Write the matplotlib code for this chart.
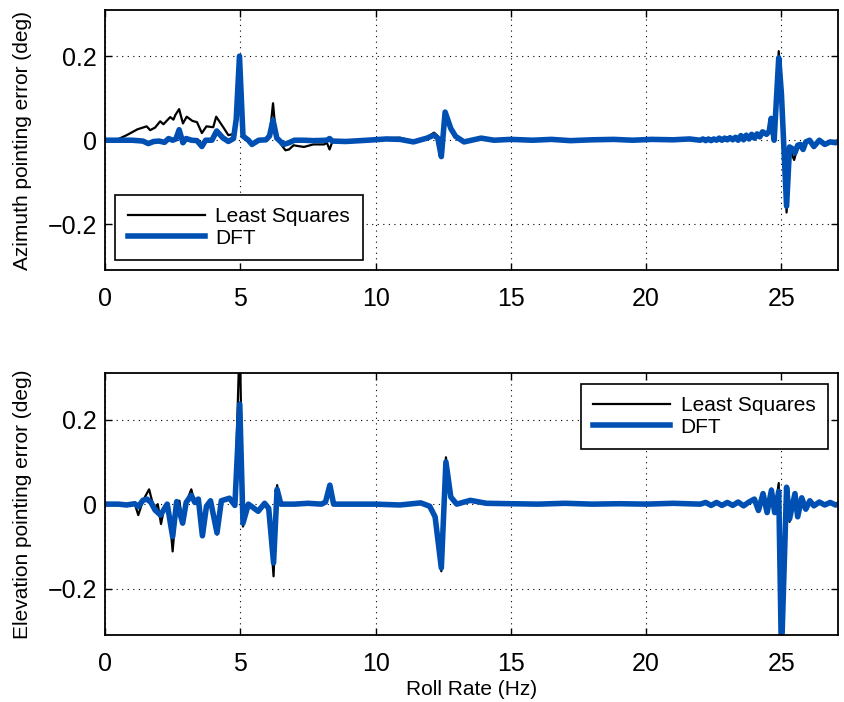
import numpy as np
import matplotlib
matplotlib.use("Agg")
import matplotlib.pyplot as plt

plt.rcParams['font.family'] = ['Liberation Sans', 'DejaVu Sans']

# azimuth error, least squares estimate (Hz, deg)
az_ls_f = [0, 0.4, 0.8, 1.2, 1.54, 1.67, 1.85, 2.04, 2.16, 2.41, 2.53, 2.6, 2.74, 2.88,
           3.02, 3.23, 3.4, 3.58, 3.75, 4.0, 4.11, 4.37, 4.56, 4.75, 4.87, 4.97, 5.08,
           5.2, 5.3, 5.45, 5.7, 5.95, 6.1, 6.21, 6.32, 6.45, 6.67, 6.8, 6.97, 7.15, 7.35,
           7.7, 8.1, 8.2, 8.3, 8.4, 8.95, 9.7, 10.4, 10.9, 11.4, 11.9, 12.16, 12.3, 12.43,
           12.57, 12.78, 12.96, 13.27, 13.9, 14.38, 15.0, 15.8, 16.5, 17.2, 18.0, 18.8,
           19.5, 20.2, 21.0, 21.6, 22.0, 22.1, 22.2, 22.3, 22.4, 22.5, 22.6, 22.7, 22.8,
           22.9, 23.0, 23.1, 23.2, 23.3, 23.4, 23.5, 23.6, 23.7, 23.8, 23.9, 24.0, 24.1,
           24.2, 24.3, 24.45, 24.55, 24.62, 24.73, 24.9, 25.0, 25.19, 25.3, 25.47, 25.6,
           25.7, 25.8, 25.9, 26.04, 26.2, 26.4, 26.6, 26.8, 27.0, 27.1]
az_ls = [0, 0.0, 0.012, 0.026, 0.033, 0.024, 0.03, 0.045, 0.038, 0.055, 0.049, 0.06, 0.074,
         0.04, 0.056, 0.046, 0.043, 0.017, 0.033, 0.031, 0.056, 0.031, 0.012, 0.015, 0.06,
         0.2, 0.01, 0.005, -0.002, -0.01, -0.002, 0.0, 0.02, 0.088, 0.01, -0.005, -0.024,
         -0.022, -0.012, -0.014, -0.016, -0.01, -0.01, -0.006, -0.022, -0.004, -0.005,
         0.002, 0.005, 0.006, -0.003, 0.007, 0.018, 0.01, -0.038, 0.067, 0.028, 0.009,
         -0.004, 0.005, 0.001, 0.003, 0.001, 0.003, 0.0, 0.002, 0.003, 0.001, 0.003, 0.002,
         0.004, 0.001, 0.003, -0.001, 0.003, -0.001, 0.003, 0.0, 0.005, 0.0, 0.005, 0.001,
         0.006, 0.001, 0.007, 0.0, 0.011, 0.001, 0.012, 0.003, 0.014, 0.005, 0.015, 0.008,
         0.02, 0.014, 0.022, 0.052, 0.0, 0.212, 0.11, -0.172, -0.02, -0.047, -0.014, -0.012,
         -0.024, -0.004, -0.002, -0.016, 0.0, -0.01, -0.004, -0.006, -0.003]

# azimuth error, DFT estimate
az_dft_f = [0, 1.0, 1.4, 1.6, 1.8, 2.0, 2.2, 2.35, 2.5, 2.62, 2.74, 2.88, 3.0, 3.2, 3.4,
            3.58, 3.72, 3.95, 4.13, 4.35, 4.56, 4.75, 4.85, 4.97, 5.1, 5.3, 5.43, 5.68,
            5.95, 6.08, 6.21, 6.35, 6.6, 6.8, 7.0, 7.35, 7.7, 8.2, 8.3, 8.4, 8.9, 9.7, 10.4,
            10.9, 11.4, 11.9, 12.16, 12.3, 12.43, 12.57, 12.78, 12.96, 13.27, 13.9, 14.38,
            15.0, 15.8, 16.5, 17.2, 18.0, 18.8, 19.5, 20.2, 21.0, 21.6, 22.0, 22.1, 22.2,
            22.3, 22.4, 22.5, 22.6, 22.7, 22.8, 22.9, 23.0, 23.1, 23.2, 23.3, 23.4, 23.5,
            23.6, 23.7, 23.8, 23.9, 24.0, 24.1, 24.2, 24.3, 24.45, 24.55, 24.62, 24.73, 24.9,
            25.0, 25.19, 25.3, 25.4, 25.5, 25.6, 25.7, 25.8, 25.9, 26.04, 26.2, 26.4, 26.6,
            26.8, 27.0, 27.1]
az_dft = [0, 0.0, -0.002, -0.008, -0.003, -0.002, -0.005, 0.004, 0.0, 0.003, 0.025, -0.006,
          0.004, 0.0, -0.001, -0.015, 0.0, 0.0, 0.022, 0.006, -0.003, 0.004, 0.05, 0.2, 0.01,
          0.0, -0.01, 0.0, 0.001, 0.01, 0.048, 0.005, -0.01, -0.006, 0.0, 0.0, -0.001, 0.0,
          0.004, -0.002, -0.003, 0.0, 0.003, 0.002, -0.004, 0.005, 0.012, 0.005, -0.039,
          0.067, 0.028, 0.009, -0.004, 0.005, 0.0, 0.002, 0.0, 0.002, -0.001, 0.001, 0.002,
          0.0, 0.002, 0.001, 0.003, 0.0, 0.003, -0.001, 0.003, -0.001, 0.003, 0.0, 0.005,
          0.0, 0.005, 0.001, 0.006, 0.001, 0.007, 0.0, 0.011, 0.001, 0.012, 0.003, 0.014,
          0.005, 0.015, 0.008, 0.02, 0.014, 0.022, 0.052, 0.0, 0.196, 0.11, -0.157, -0.016,
          -0.02, -0.03, -0.012, -0.01, -0.022, -0.004, 0.0, -0.015, 0.0, -0.01, -0.004,
          -0.006, -0.003]

# elevation error, least squares estimate
el_ls_f = [0, 0.5, 0.8, 1.1, 1.23, 1.4, 1.63, 1.75, 1.85, 1.95, 2.07, 2.2, 2.35, 2.5, 2.65,
           2.75, 2.87, 3.0, 3.19, 3.3, 3.45, 3.6, 3.75, 3.9, 4.14, 4.3, 4.6, 4.8, 4.98, 5.1,
           5.3, 5.66, 5.9, 6.05, 6.23, 6.36, 6.5, 7.0, 7.5, 8.0, 8.15, 8.31, 8.45, 9.0, 10.0,
           10.9, 11.67, 12.0, 12.2, 12.43, 12.6, 12.78, 13.0, 13.5, 14.1, 15.0, 16.0, 17.0,
           18.0, 19.0, 20.0, 21.0, 22.0, 22.2, 22.4, 22.6, 22.8, 23.0, 23.2, 23.4, 23.6,
           23.8, 24.0, 24.15, 24.32, 24.47, 24.63, 24.75, 24.9, 25.0, 25.19, 25.3, 25.5,
           25.6, 25.75, 25.9, 26.05, 26.2, 26.4, 26.6, 26.8, 27.0, 27.1]
el_ls = [0, 0.0, -0.002, 0.001, -0.026, 0.008, 0.035, 0.005, -0.012, 0.0, -0.047, -0.005,
         0.0, -0.112, 0.006, 0.008, -0.047, 0.004, 0.035, 0.006, 0.014, -0.077, -0.005,
         0.008, -0.072, 0.008, 0.014, -0.003, 0.4, -0.053, 0.0, -0.017, 0.002, -0.01,
         -0.171, 0.045, 0.0, 0.0, 0.002, 0.0, 0.005, 0.045, 0.0, 0.0, 0.0, -0.002, 0.003,
         -0.005, -0.03, -0.159, 0.111, 0.017, 0.0, 0.009, 0.002, 0.001, 0.0, 0.002, 0.0,
         0.001, 0.0, 0.002, 0.0, 0.004, -0.003, 0.004, -0.003, 0.004, -0.003, 0.005,
         -0.004, 0.005, 0.012, -0.015, 0.027, -0.02, 0.037, -0.02, 0.05, -0.36, 0.04,
         -0.042, 0.025, -0.03, 0.015, -0.012, 0.008, -0.004, 0.005, -0.002, 0.004, -0.002,
         0.0]

# elevation error, DFT estimate
el_dft_f = [0, 0.5, 0.8, 1.1, 1.23, 1.4, 1.55, 1.7, 1.85, 2.05, 2.3, 2.5, 2.65, 2.87, 3.0,
            3.19, 3.32, 3.45, 3.6, 3.75, 3.9, 4.14, 4.3, 4.6, 4.8, 4.98, 5.1, 5.3, 5.66, 5.9,
            6.05, 6.23, 6.36, 6.5, 7.0, 7.5, 8.0, 8.15, 8.31, 8.45, 9.0, 10.0, 10.9, 11.67,
            12.0, 12.2, 12.43, 12.6, 12.78, 13.0, 13.5, 14.1, 15.0, 16.0, 17.0, 18.0, 19.0,
            20.0, 21.0, 22.0, 22.2, 22.4, 22.6, 22.8, 23.0, 23.2, 23.4, 23.6, 23.8, 24.0,
            24.15, 24.32, 24.47, 24.63, 24.75, 24.9, 25.0, 25.19, 25.3, 25.5, 25.6, 25.75,
            25.9, 26.05, 26.2, 26.4, 26.6, 26.8, 27.0, 27.1]
el_dft = [0, 0.0, -0.002, 0.001, -0.006, 0.009, 0.012, 0.004, -0.014, -0.026, 0.0, -0.077,
          0.006, -0.045, 0.004, 0.021, 0.004, 0.012, -0.075, -0.005, 0.008, -0.068, 0.008,
          0.014, -0.003, 0.237, -0.045, 0.0, -0.017, 0.002, -0.01, -0.139, 0.035, 0.0, 0.0,
          0.002, 0.0, 0.005, 0.045, 0.0, 0.0, 0.0, -0.002, 0.003, -0.005, -0.03, -0.151,
          0.1, 0.017, 0.0, 0.009, 0.002, 0.001, 0.0, 0.002, 0.0, 0.001, 0.0, 0.002, 0.0,
          0.004, -0.003, 0.004, -0.003, 0.004, -0.003, 0.005, -0.004, 0.005, 0.012, -0.015,
          0.025, -0.02, 0.033, -0.02, 0.03, -0.36, 0.04, -0.035, 0.025, -0.03, 0.015,
          -0.012, 0.008, -0.004, 0.005, -0.002, 0.004, -0.002, 0.0]

xticks = [0, 5, 10, 15, 20, 25]
yticks = [-0.2, 0, 0.2]
ytick_labels = ['\u22120.2', '0', '0.2']
blue = '#0050b4'

fig = plt.figure(figsize=(8.44, 7.02), dpi=100)
ax1 = fig.add_axes([0.1244, 0.6147, 0.8688, 0.3711])
ax2 = fig.add_axes([0.1244, 0.0954, 0.8688, 0.3729])

panels = [
    (ax1, az_ls_f, az_ls, az_dft_f, az_dft, 'Azimuth pointing error (deg)', 'lower left'),
    (ax2, el_ls_f, el_ls, el_dft_f, el_dft, 'Elevation pointing error (deg)', 'upper right'),
]
for ax, f1, y1, f2, y2, ylab, loc in panels:
    ax.plot(f1, y1, color='black', lw=1.6, label='Least Squares')
    ax.plot(f2, y2, color=blue, lw=4.0, label='DFT')
    ax.set_xlim(0, 27.1)
    ax.set_ylim(-0.31, 0.31)
    ax.set_xticks(xticks)
    ax.set_yticks(yticks)
    ax.set_yticklabels(ytick_labels)
    ax.grid(True, color='black', linestyle=(0, (1, 4)), lw=0.8)
    ax.tick_params(direction='in', top=True, right=True, labelsize=18, length=5, width=1)
    ax.tick_params(axis='x', pad=12)
    ax.tick_params(axis='y', pad=6)
    for s in ax.spines.values():
        s.set_linewidth(1.3)
    ax.set_ylabel(ylab, fontsize=15, labelpad=11)
    leg = ax.legend(loc=loc, fontsize=15, handlelength=3.7, handletextpad=0.5,
                    borderaxespad=0.5, borderpad=0.6, labelspacing=0.12, fancybox=False,
                    framealpha=1, edgecolor='black')
    leg.get_frame().set_linewidth(1.2)

ax2.set_xlabel('Roll Rate (Hz)', fontsize=15, labelpad=3)

fig.savefig('out.png', dpi=100)
